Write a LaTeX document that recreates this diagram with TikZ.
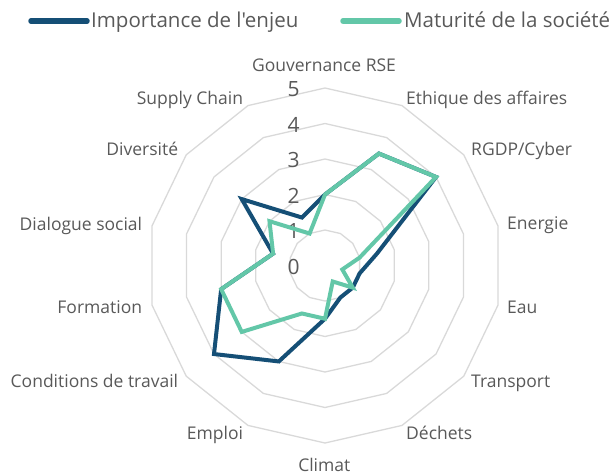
\documentclass[tikz,border=0pt]{standalone}
\usepackage{fontspec}
\setmainfont{Open Sans}[Ligatures=TeXOff]
\definecolor{gridgray}{RGB}{217,217,217}
\definecolor{labgray}{RGB}{89,89,89}
\definecolor{darkser}{RGB}{21,79,118}
\definecolor{tealser}{RGB}{99,199,168}
\begin{document}
\begin{tikzpicture}[x=1pt,y=1pt,
  gridring/.style={draw=gridgray, line width=1.3pt},
  lab/.style={text=labgray, font=\fontsize{17.5}{20}\selectfont, inner sep=0pt},
  ticklab/.style={text=labgray, font=\fontsize{21}{24}\selectfont, inner sep=0pt, anchor=center},
  legtext/.style={text=labgray, font=\fontsize{20.5}{24}\selectfont, inner sep=0pt, anchor=base west},
  serA/.style={draw=darkser, line width=4pt, line join=miter},
  serB/.style={draw=tealser, line width=4pt, line join=miter},
  legline/.style={line width=5.5pt, line cap=round},
]
\useasboundingbox (0,0) rectangle (609,475);
\coordinate (c) at (325,209.5);
% grid rings
\foreach \r in {1,...,5} {
  \draw[gridring, shift={(325,209.5)}] (90:{\r*35.5})
    \foreach \k in {1,...,13} { -- ({90-\k*360/14}:{\r*35.5}) } -- cycle;
}
% tick labels
\foreach \v in {0,...,5} {
  \node[ticklab] (t\v) at (293.5,{209.5+35.5*\v-1.3}) {\v};
}
% series
\draw[serA, shift={(325,209.5)}] (90:{2*35.5})
  \foreach \v [count=\k] in {3.5,4,1.5,1,1,1,1.5,3,4,3,1.5,3,1.5} { -- ({90-\k*360/14}:{\v*35.5}) } -- cycle;
\draw[serB, shift={(325,209.5)}] (90:{2*35.5})
  \foreach \v [count=\k] in {3.5,4,1,0.5,1,0.5,1.5,1.5,3,3,1.5,2,1} { -- ({90-\k*360/14}:{\v*35.5}) } -- cycle;
% axis labels
\node[lab, anchor=base] (a0) at (324,403) {Gouvernance RSE};
\node[lab, anchor=base west] (a1) at (406,371) {Ethique des affaires};
\node[lab, anchor=base west] (a2) at (471,320) {RGDP/Cyber};
\node[lab, anchor=base west] (a3) at (507,245.5) {Energie};
\node[lab, anchor=base west] (a4) at (507,162) {Eau};
\node[lab, anchor=base west] (a5) at (471,88) {Transport};
\node[lab, anchor=base west] (a6) at (406,36) {Déchets};
\node[lab, anchor=base] (a7) at (324.3,4) {Climat};
\node[lab, anchor=base east] (a8) at (243.3,36) {Emploi};
\node[lab, anchor=base east] (a9) at (178.3,88) {Conditions de travail};
\node[lab, anchor=base east] (a10) at (142.3,162) {Formation};
\node[lab, anchor=base east] (a11) at (142.3,245) {Dialogue social};
\node[lab, anchor=base east] (a12) at (178.3,320) {Diversité};
\node[lab, anchor=base east] (a13) at (243.3,371) {Supply Chain};
% legend
\coordinate (l1a) at (31,454);
\coordinate (l1b) at (87,454);
\coordinate (l2a) at (343,454);
\coordinate (l2b) at (399,454);
\draw[legline, draw=darkser] (l1a) -- (l1b);
\draw[legline, draw=tealser] (l2a) -- (l2b);
\node[legtext] (lt1) at (91,447.5) {Importance de l'enjeu};
\node[legtext] (lt2) at (404,447.5) {Maturité de la société};
\end{tikzpicture}
\end{document}
